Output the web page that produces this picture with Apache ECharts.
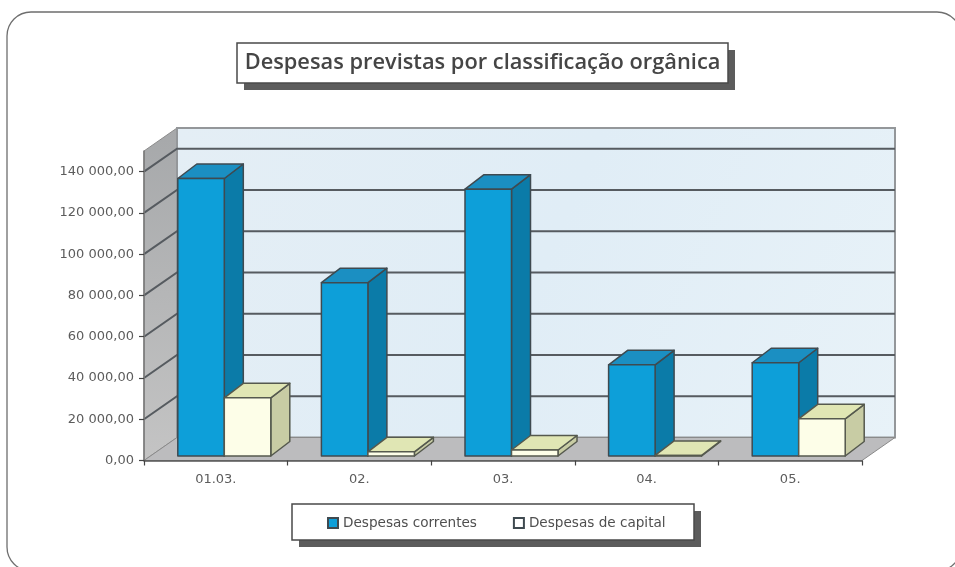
<!DOCTYPE html>
<html>
<head>
<meta charset="utf-8">
<style>html,body{margin:0;padding:0;background:#fff}#c{width:955px;height:567px}</style>
<script src="https://cdn.jsdelivr.net/npm/echarts@6/dist/echarts.min.js"></script>
</head>
<body>
<div id="c"></div>
<script>
const titleText = 'Despesas previstas por classificação orgânica';
const categories = ['01.03.', '02.', '03.', '04.', '05.'];
const seriesNames = ['Despesas correntes', 'Despesas de capital'];
const correntes = [134500, 84000, 129300, 44200, 45200];
const capital = [28200, 2000, 2900, 300, 18000];
const yTicks = [0, 20000, 40000, 60000, 80000, 100000, 120000, 140000];
const yTickLabels = ['0,00', '20 000,00', '40 000,00', '60 000,00', '80 000,00', '100 000,00', '120 000,00', '140 000,00'];
const yMax = 150000;

const WALL_DX = 33, WALL_DY = -23;
const BAR_DX = 19, BAR_DY = -14.5, BAR_SHIFT_X = 8.5, BAR_SHIFT_Y = -4.5, BAR_W = 46.5;
const OUTLINE = '#3f4a50';

function face(points, fill, stroke) {
  return { type: 'polygon', shape: { points }, style: { fill, stroke, lineWidth: 1.5, lineJoin: 'round' } };
}
function barRender(offset, colors) {
  return function (params, api) {
    const top = api.coord([api.value(0), api.value(1)]);
    const base = api.coord([api.value(0), 0]);
    const x0 = top[0] + BAR_SHIFT_X + offset * BAR_W;
    const x1 = x0 + BAR_W;
    const yt = top[1] + BAR_SHIFT_Y, yb = base[1] + BAR_SHIFT_Y;
    return { type: 'group', children: [
      face([[x1, yt], [x1 + BAR_DX, yt + BAR_DY], [x1 + BAR_DX, yb + BAR_DY], [x1, yb]], colors.side, colors.line),
      face([[x0, yt], [x0 + BAR_DX, yt + BAR_DY], [x1 + BAR_DX, yt + BAR_DY], [x1, yt]], colors.top, colors.line),
      face([[x0, yt], [x1, yt], [x1, yb], [x0, yb]], colors.front, colors.line)
    ] };
  };
}
const blue = { front: '#0d9fd9', side: '#0b7ba8', top: '#1b8fc2', line: OUTLINE };
const cream = { front: '#fdfee8', side: '#c8cca4', top: '#e0e6b4', line: '#55594e' };

function wallRender(params, api) {
  const cs = params.coordSys;
  const xl = cs.x, xr = cs.x + cs.width, yt = cs.y, yb = cs.y + cs.height;
  return { type: 'group', children: [
    { type: 'polygon', shape: { points: [[xl, yt], [xl + WALL_DX, yt + WALL_DY], [xl + WALL_DX, yb + WALL_DY], [xl, yb]] },
      style: { fill: { type: 'linear', x: 0, y: 0, x2: 0, y2: 1, colorStops: [{ offset: 0, color: '#a6a8aa' }, { offset: 1, color: '#c4c4c4' }] }, stroke: '#8c8c8c', lineWidth: 1 } },
    { type: 'rect', shape: { x: xl + WALL_DX, y: yt + WALL_DY, width: cs.width, height: cs.height },
      style: { fill: { type: 'linear', x: 0, y: 0, x2: 1, y2: 1, colorStops: [{ offset: 0, color: '#e4eef5' }, { offset: 0.5, color: '#e0edf6' }, { offset: 1, color: '#e8f2f8' }] }, stroke: '#94979a', lineWidth: 2 } },
    { type: 'polygon', shape: { points: [[xl, yb], [xl + WALL_DX, yb + WALL_DY], [xr + WALL_DX, yb + WALL_DY], [xr, yb]] },
      style: { fill: '#bcbcbe', stroke: '#8a8a8a', lineWidth: 1 } }
  ] };
}
function gridRender(params, api) {
  const p = api.coord([0, api.value(0)]), cs = params.coordSys;
  const xl = cs.x, xr = cs.x + cs.width, y = p[1];
  if (api.value(0) === 0) return { type: 'group', children: [] };
  return { type: 'polyline', shape: { points: [[xl, y], [xl + WALL_DX, y + WALL_DY], [xr + WALL_DX, y + WALL_DY]] },
    style: { fill: 'none', stroke: '#565b60', lineWidth: 2 } };
}
function boxWithShadow(x, y, w, h) {
  return [
    { type: 'rect', z: 1, silent: true, shape: { x: x + 7, y: y + 7, width: w, height: h }, style: { fill: '#5c5c5c' } },
    { type: 'rect', z: 2, silent: true, shape: { x, y, width: w, height: h }, style: { fill: '#fff', stroke: '#4a4a4a', lineWidth: 1.5 } }
  ];
}

const chart = echarts.init(document.getElementById('c'), null, { renderer: 'canvas' });
chart.setOption({
  animation: false,
  backgroundColor: '#ffffff',
  graphic: [
    { type: 'rect', z: 0, silent: true, shape: { x: 7, y: 12, width: 954, height: 559, r: 24 },
      style: { fill: '#fff', stroke: '#6e6e6e', lineWidth: 1.3 } },
    ...boxWithShadow(237, 43, 491, 40),
    ...boxWithShadow(292, 504, 402, 36)
  ],
  title: {
    text: titleText, left: 482.5, top: 48, padding: 0,
    textAlign: 'center',
    textStyle: { fontFamily: 'Open Sans', fontWeight: 600, fontSize: 21.8, color: '#454545', lineHeight: 29 }
  },
  legend: {
    left: 327, top: 516, orient: 'horizontal', padding: 0,
    data: seriesNames.map(name => ({ name, icon: 'rect' })),
    itemWidth: 10, itemHeight: 10, itemGap: 36,
    textStyle: { fontFamily: 'DejaVu Sans', fontSize: 13.6, color: '#4f4f4f' }
  },
  grid: { left: 144, right: 93, top: 151, bottom: 106.5 },
  xAxis: {
    type: 'category', data: categories, boundaryGap: true, z: 10,
    axisLine: { lineStyle: { color: '#555', width: 1.5 } },
    axisTick: { show: true, length: 5, lineStyle: { color: '#444', width: 1.2 } },
    axisLabel: { fontFamily: 'DejaVu Sans', fontSize: 13, color: '#5c5c5c', margin: 13 }
  },
  yAxis: {
    type: 'value', min: 0, max: yMax, interval: 20000, z: 10,
    splitLine: { show: false },
    axisLine: { show: true, lineStyle: { color: '#777', width: 1.5 } },
    axisTick: { show: true, length: 5, customValues: yTicks, lineStyle: { color: '#444', width: 1.2 } },
    axisLabel: {
      customValues: yTicks, margin: 10,
      fontFamily: 'DejaVu Sans', fontSize: 13, color: '#5c5c5c',
      formatter: v => yTickLabels[yTicks.indexOf(v)]
    }
  },
  series: [
    { type: 'custom', silent: true, z: 1, renderItem: wallRender, data: [[0, 0]], encode: { x: 0, y: 1 } },
    { type: 'custom', silent: true, z: 2, renderItem: gridRender, data: yTicks.map(v => [v]), encode: { y: 0 } },
    { type: 'custom', name: seriesNames[0], z: 3, itemStyle: { color: blue.front, borderColor: OUTLINE, borderWidth: 1 },
      renderItem: barRender(-1, blue), data: correntes.map((v, i) => [i, v]), encode: { x: 0, y: 1 } },
    { type: 'custom', name: seriesNames[1], z: 4, itemStyle: { color: '#ffffff', borderColor: OUTLINE, borderWidth: 1 },
      renderItem: barRender(0, cream), data: capital.map((v, i) => [i, v]), encode: { x: 0, y: 1 } }
  ]
});
</script>
</body>
</html>
